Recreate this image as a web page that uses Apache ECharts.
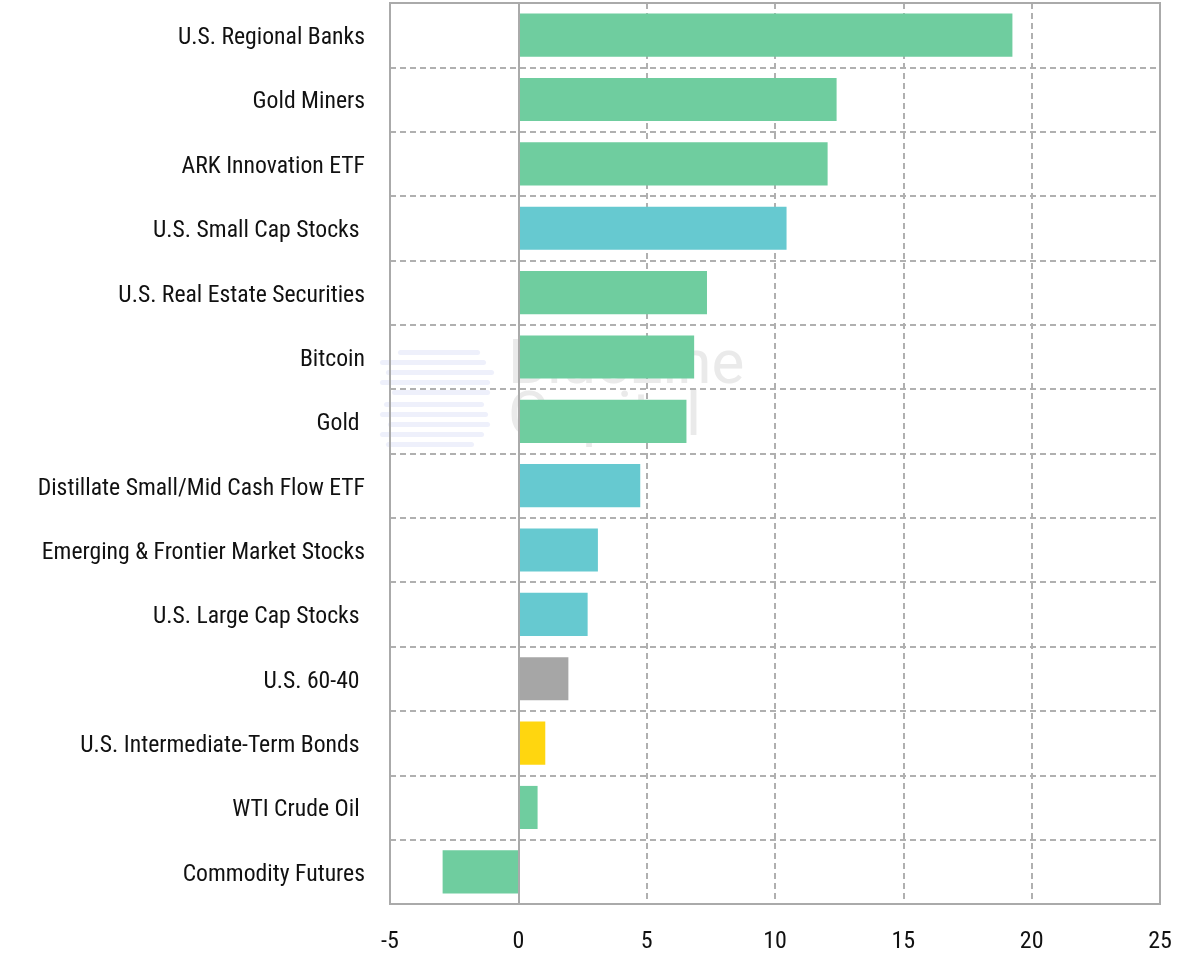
<!DOCTYPE html>
<html>
<head>
<meta charset="utf-8">
<script src="https://cdn.jsdelivr.net/npm/echarts@6/dist/echarts.min.js"></script>
<style>
  html, body { margin: 0; padding: 0; background: #ffffff; }
  #chart { width: 1195px; height: 954px; }
</style>
</head>
<body>
<div id="chart"></div>
<script>
const CATEGORIES = [
  "U.S. Regional Banks",
  "Gold Miners",
  "ARK Innovation ETF",
  "U.S. Small Cap Stocks ",
  "U.S. Real Estate Securities",
  "Bitcoin",
  "Gold ",
  "Distillate Small/Mid Cash Flow ETF",
  "Emerging & Frontier Market Stocks",
  "U.S. Large Cap Stocks ",
  "U.S. 60-40 ",
  "U.S. Intermediate-Term Bonds ",
  "WTI Crude Oil ",
  "Commodity Futures",
];

const RETURNS = [19.25, 12.4, 12.05, 10.45, 7.35, 6.85, 6.55, 4.75, 3.1, 2.7, 1.95, 1.05, 0.75, -2.95];

const GROUPS = [
  "alt", "alt", "alt", "equity", "alt", "alt", "alt",
  "equity", "equity", "equity", "balanced", "bond", "alt", "alt",
];

const X_TICKS = [-5, 0, 5, 10, 15, 20, 25];

const GROUP_COLORS = {
  alt: "#6fcd9f",
  equity: "#66c9d0",
  balanced: "#a6a6a6",
  bond: "#ffd60f",
};

const FONT = "'Liberation Sans Narrow', 'Roboto Condensed', 'DejaVu Sans Condensed', sans-serif";

// faint watermark logo stripes
const logoStripes = [
  [398, 350, 82], [380, 360, 106], [386, 370, 108], [380, 380, 110], [392, 390, 98],
  [384, 402, 100], [380, 412, 108], [388, 422, 102], [380, 432, 104], [386, 442, 88],
].map(([x, y, w]) => ({
  type: "rect",
  silent: true,
  z: 0,
  shape: { x, y, width: w, height: 5, r: 2.5 },
  style: { fill: "#eef0fb" },
}));

const chart = echarts.init(document.getElementById("chart"), null, { renderer: "canvas" });

chart.setOption({
  backgroundColor: "#ffffff",
  animation: false,
  graphic: [
    ...logoStripes,
    {
      type: "text",
      left: 508,
      top: 336,
      z: 0,
      silent: true,
      style: {
        text: "BlueLine\nCapital",
        fill: "#eaeaea",
        font: "62px 'Roboto', sans-serif",
        lineHeight: 52,
      },
    },
  ],
  grid: {
    left: 390,
    right: 35,
    top: 3,
    bottom: 49,
    containLabel: false,
    show: true,
    borderColor: "#aaaaaa",
    borderWidth: 2,
    z: 3,
  },
  xAxis: {
    type: "value",
    min: X_TICKS[0],
    max: X_TICKS[X_TICKS.length - 1],
    interval: 5,
    axisLine: { show: false },
    axisTick: { show: false },
    axisLabel: {
      color: "#111111",
      fontFamily: FONT,
      fontSize: 24,
      margin: 26,
    },
    splitLine: {
      show: true,
      lineStyle: { color: "#b0b0b0", type: [6, 4], width: 2 },
    },
  },
  yAxis: {
    type: "category",
    inverse: true,
    data: CATEGORIES,
    axisLine: { show: false, onZero: false },
    axisTick: { show: false },
    axisLabel: {
      margin: 25,
      formatter: (value) => `{lbl|${value}}`,
      rich: {
        lbl: {
          color: "#111111",
          fontFamily: FONT,
          fontSize: 23.7,
          padding: [6, 0, 0, 0],
        },
      },
    },
    splitLine: {
      show: true,
      lineStyle: { color: "#b0b0b0", type: [6, 4], width: 2 },
    },
  },
  series: [
    {
      type: "bar",
      barCategoryGap: "33%",
      data: RETURNS.map((value, i) => ({
        value,
        itemStyle: { color: GROUP_COLORS[GROUPS[i]] },
      })),
      markLine: {
        silent: true,
        symbol: "none",
        label: { show: false },
        lineStyle: { color: "#aaaaaa", type: "solid", width: 2 },
        data: [{ xAxis: 0 }],
      },
    },
  ],
});
</script>
</body>
</html>
